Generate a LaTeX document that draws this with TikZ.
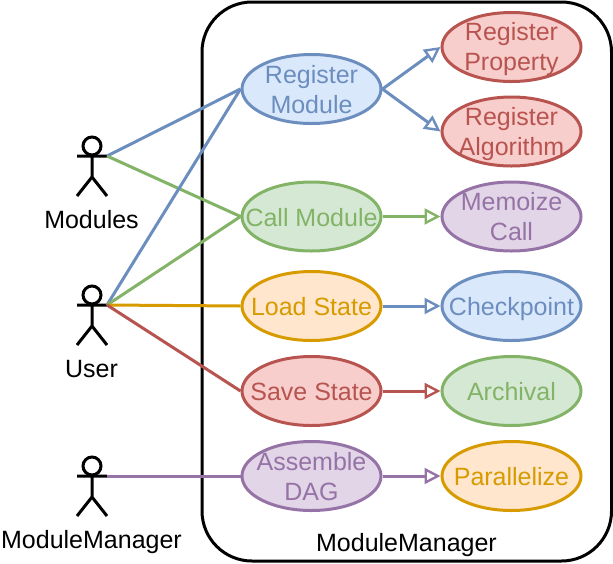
\documentclass[tikz,border=0pt]{standalone}
\usepackage{fontspec}
\setmainfont{Liberation Sans}
\usetikzlibrary{shapes.geometric,arrows.meta}
\definecolor{bS}{HTML}{6C8EBF}\definecolor{bF}{HTML}{DAE8FC}
\definecolor{gS}{HTML}{82B366}\definecolor{gF}{HTML}{D5E8D4}
\definecolor{oS}{HTML}{D79B00}\definecolor{oF}{HTML}{FFE6CC}
\definecolor{rS}{HTML}{B85450}\definecolor{rF}{HTML}{F8CECC}
\definecolor{pS}{HTML}{9673A6}\definecolor{pF}{HTML}{E1D5E7}
\tikzset{
  x=1pt,y=1pt,
  usecase/.style 2 args={ellipse,draw=#1,fill=#2,line width=3pt,minimum width=139pt,minimum height=69pt,inner sep=0pt},
  uctext/.style={text=#1,font=\fontsize{25}{30}\selectfont,align=center,inner sep=0pt},
  lbl/.style={text=black,font=\fontsize{25}{30}\selectfont,inner sep=0pt},
  link/.style={line width=3pt,draw=#1},
  arrowlink/.style={line width=3pt,draw=#1,-{Triangle[open,fill=white,length=16pt,width=16pt,line width=2.4pt]}},
  actor/.pic={
    \draw[line width=3pt,black] (0,10) circle (9);
    \draw[line width=3pt,black] (0,1) -- (0,-21) (-15,0) -- (15,0) (-15,-40) -- (0,-21) -- (15,-40);
    \coordinate (-hand) at (15,0);
  }
}
\begin{document}
\begin{tikzpicture}
\useasboundingbox (0,0) rectangle (613,-563);
\draw[line width=3pt,black,rounded corners=50pt] (202,-2) rectangle (611.5,-561);
\node[lbl] (boxlabel) at (406.5,-545) {ModuleManager};

\pic (mods) at (92,-156) {actor};
\pic (user) at (92,-305) {actor};
\pic (mgr) at (92,-476) {actor};
\node[lbl] (modslabel) at (91.5,-220) {Modules};
\node[lbl] (userlabel) at (91.5,-369) {User};
\node[lbl] (mgrlabel) at (91.5,-542) {ModuleManager};

\node[usecase={bS}{bF}] (reg) at (311.5,-89) {};
\node[usecase={gS}{gF}] (call) at (311.5,-216.5) {};
\node[usecase={oS}{oF}] (load) at (311.5,-306) {};
\node[usecase={rS}{rF}] (save) at (311.5,-391) {};
\node[usecase={pS}{pF}] (dag) at (311.5,-476) {};
\node[usecase={rS}{rF}] (prop) at (511.5,-47) {};
\node[usecase={rS}{rF}] (algo) at (511.5,-131.5) {};
\node[usecase={pS}{pF}] (memo) at (511.5,-216.5) {};
\node[usecase={bS}{bF}] (ckpt) at (511.5,-306) {};
\node[usecase={gS}{gF}] (arch) at (511.5,-391) {};
\node[usecase={oS}{oF}] (par) at (511.5,-476) {};

\node[uctext=bS,yshift=-1pt] (regt) at (reg) {Register\\Module};
\node[uctext=gS,yshift=-1pt] (callt) at (call) {Call Module};
\node[uctext=oS,yshift=-1pt] (loadt) at (load) {Load State};
\node[uctext=rS,yshift=-1pt] (savet) at (save) {Save State};
\node[uctext=pS,yshift=-1pt] (dagt) at (dag) {Assemble\\DAG};
\node[uctext=rS,yshift=-2pt] (propt) at (prop) {Register\\Property};
\node[uctext=rS,yshift=-3pt] (algot) at (algo) {Register\\Algorithm};
\node[uctext=pS,yshift=-0.5pt] (memot) at (memo) {Memoize\\Call};
\node[uctext=bS,yshift=-3pt] (ckptt) at (ckpt) {Checkpoint};
\node[uctext=gS,yshift=-1pt] (archt) at (arch) {Archival};
\node[uctext=oS,yshift=-1pt] (part) at (par) {Parallelize};

\draw[link=bS] (mods-hand) -- (reg.west);
\draw[link=gS] (mods-hand) -- (call.west);
\draw[link=bS] (user-hand) -- (reg.west);
\draw[link=gS] (user-hand) -- (call.west);
\draw[link=oS] (user-hand) -- (load.west);
\draw[link=rS] (user-hand) -- (save.west);
\draw[link=pS] (mgr-hand) -- (dag.west);

\draw[arrowlink=bS] (reg.east) -- (prop.west);
\draw[arrowlink=bS] (reg.east) -- (algo.west);
\draw[arrowlink=gS] (call.east) -- (memo.west);
\draw[arrowlink=bS] (load.east) -- (ckpt.west);
\draw[arrowlink=rS] (save.east) -- (arch.west);
\draw[arrowlink=pS] (dag.east) -- (par.west);
\end{tikzpicture}
\end{document}
